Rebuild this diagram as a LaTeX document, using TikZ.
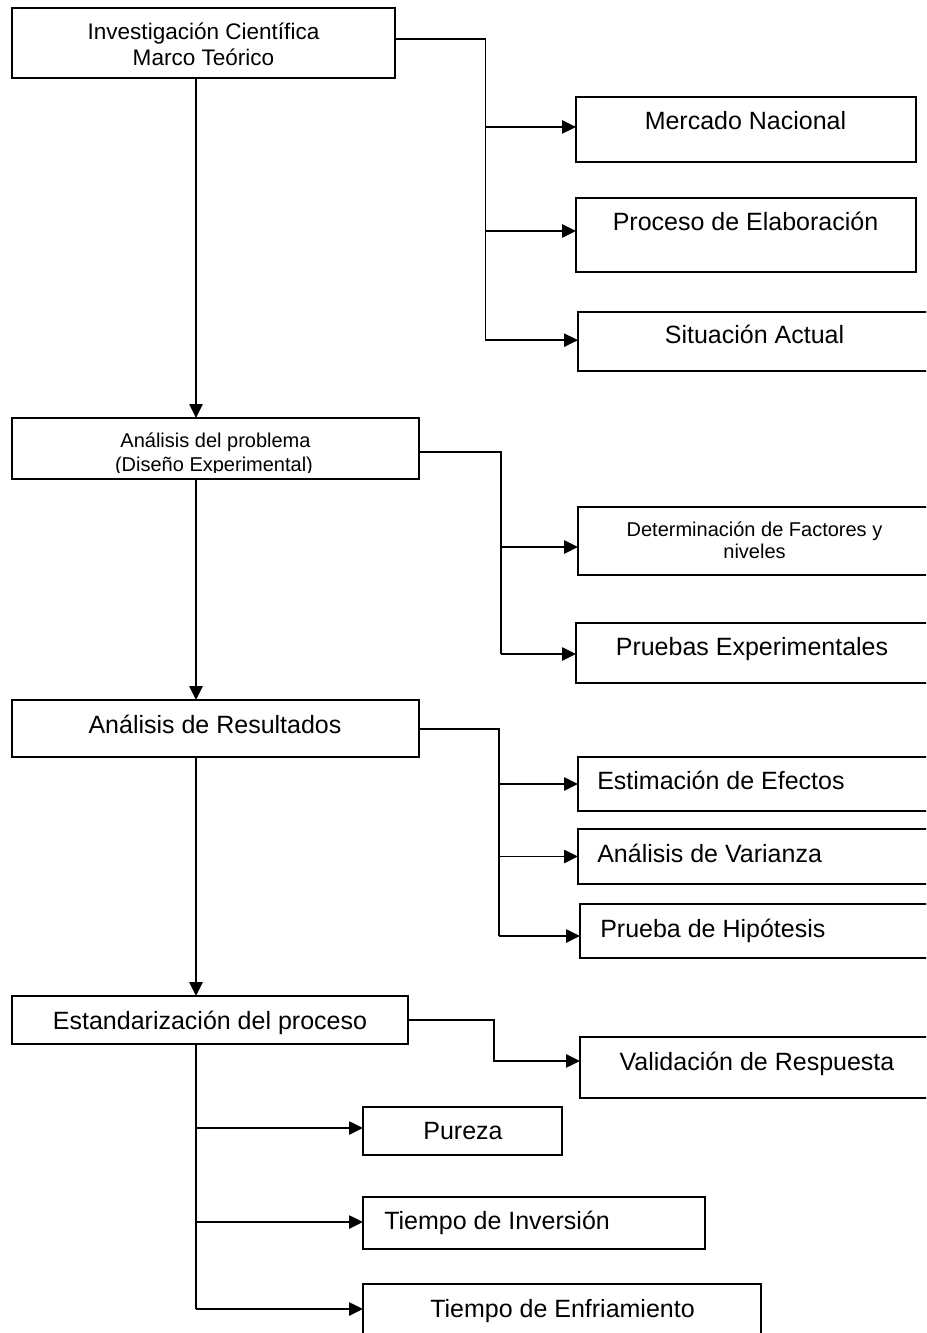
\documentclass[tikz,border=0pt]{standalone}
\usepackage{fontspec}
\setmainfont{Liberation Sans}
\usetikzlibrary{arrows.meta}
\tikzset{
  box/.style={draw=black, line width=1.6pt*0.75, inner sep=0pt, outer sep=0pt, anchor=north west},
  big/.style={font=\fontsize{18.75}{22}\selectfont, inner sep=0pt, anchor=base},
  bigl/.style={big, anchor=base west},
  mid/.style={font=\fontsize{16.9}{19.5}\selectfont, inner sep=0pt, anchor=base},
  sml/.style={font=\fontsize{15}{16.5}\selectfont, inner sep=0pt, anchor=base},
  link/.style={line width=1.5pt*0.75, line join=miter},
  arr/.style={link, -{Triangle[length=10.5pt,width=10pt]}},
}
\begin{document}
\begin{tikzpicture}[x=0.75pt, y=-0.75pt]
\useasboundingbox (0,0) rectangle (926,1333);
\clip (0,0) rectangle (926,1333);

% main column boxes
\node[box, minimum width=383*0.75pt, minimum height=70*0.75pt] (b1) at (12,8) {};
\node[box, minimum width=407*0.75pt, minimum height=61*0.75pt] (b2) at (12,418) {};
\node[box, minimum width=407*0.75pt, minimum height=57*0.75pt] (b3) at (12,700) {};
\node[box, minimum width=396*0.75pt, minimum height=48*0.75pt] (b4) at (12,996) {};

% right boxes
\node[box, minimum width=340*0.75pt, minimum height=65*0.75pt] (m1) at (576,97) {};
\node[box, minimum width=340*0.75pt, minimum height=74*0.75pt] (m2) at (576,198) {};
\node[box, minimum width=370*0.75pt, minimum height=59*0.75pt] (m3) at (578,312) {};
\node[box, minimum width=370*0.75pt, minimum height=68*0.75pt] (d1) at (578,507) {};
\node[box, minimum width=370*0.75pt, minimum height=60*0.75pt] (d2) at (576,623) {};
\node[box, minimum width=370*0.75pt, minimum height=54*0.75pt] (e1) at (578,757) {};
\node[box, minimum width=370*0.75pt, minimum height=55*0.75pt] (e2) at (578,829) {};
\node[box, minimum width=370*0.75pt, minimum height=54*0.75pt] (e3) at (580,904) {};
\node[box, minimum width=370*0.75pt, minimum height=61*0.75pt] (v1) at (580,1037) {};
\node[box, minimum width=199*0.75pt, minimum height=48*0.75pt] (p1) at (363,1107) {};
\node[box, minimum width=342*0.75pt, minimum height=52*0.75pt] (p2) at (363,1197) {};
\node[box, minimum width=398*0.75pt, minimum height=60*0.75pt] (p3) at (363,1284) {};

% texts
\node[mid] (t1a) at (203.5,40) {Investigación Científica};
\node[mid] (t1b) at (203.5,66) {Marco Teórico};
\node[sml] (t2a) at (215.5,447) {Análisis del problema};
\begin{scope}
  \clip (12,418) rectangle (419,472);
  \node[sml] (t2b) at (214,471) {(Diseño Experimental)};
\end{scope}
\node[big] (t3) at (215,733) {Análisis de Resultados};
\node[big] (t4) at (210,1029) {Estandarización del proceso};

\node[big] (tm1) at (745.5,130) {Mercado Nacional};
\node[big] (tm2) at (745.5,231) {Proceso de Elaboración};
\node[big] (tm3) at (754.5,344) {Situación Actual};
\node[sml] (td1a) at (754.5,536) {Determinación de Factores y};
\node[sml] (td1b) at (754.5,558) {niveles};
\node[big] (td2) at (752,655) {Pruebas Experimentales};
\node[bigl] (te1) at (597,789) {Estimación de Efectos};
\node[bigl] (te2) at (597,862) {Análisis de Varianza};
\node[bigl] (te3) at (600,937) {Prueba de Hipótesis};
\node[big] (tv1) at (757,1070) {Validación de Respuesta};
\node[big] (tp1) at (463,1139) {Pureza};
\node[bigl] (tp2) at (384,1229) {Tiempo de Inversión};
\node[big] (tp3) at (562.5,1317) {Tiempo de Enfriamiento};

% trunk coordinates
\coordinate (vx) at (196,0);
\coordinate (k1) at (485.5,39);
\coordinate (k2) at (501,452);
\coordinate (k3) at (499,729);
\coordinate (k4) at (494,1020);

% main vertical flow
\draw[arr] (b1.south -| vx) -- (b2.north -| vx);
\draw[arr] (b2.south -| vx) -- (b3.north -| vx);
\draw[arr] (b3.south -| vx) -- (b4.north -| vx);

% section 1
\draw[link] (b1.east |- k1) -- (k1) -- (k1 |- m3.west);
\draw[arr] ([yshift=1.9pt]k1 |- m1.west) -- ([yshift=1.9pt]m1.west);
\draw[arr] ([yshift=3pt]k1 |- m2.west) -- ([yshift=3pt]m2.west);
\draw[arr] ([yshift=1pt]k1 |- m3.west) -- ([yshift=1pt]m3.west);

% section 2
\draw[link] (b2.east |- k2) -- (k2) -- ([yshift=-0.75pt]k2 |- d2.west);
\draw[arr] ([yshift=-4.5pt]k2 |- d1.west) -- ([yshift=-4.5pt]d1.west);
\draw[arr] ([yshift=-0.75pt]k2 |- d2.west) -- ([yshift=-0.75pt]d2.west);

% section 3
\draw[link] (b3.east |- k3) -- (k3) -- ([yshift=-3.75pt]k3 |- e3.west);
\draw[arr] (k3 |- e1.west) -- (e1.west);
\draw[arr] (k3 |- e2.west) -- (e2.west);
\draw[arr] ([yshift=-3.75pt]k3 |- e3.west) -- ([yshift=-3.75pt]e3.west);

% section 4
\draw[arr] (b4.east |- k4) -- (k4) |- ([yshift=4.9pt]v1.west);
\draw[link] (b4.south -| vx) -- ([yshift=3.75pt]vx |- p3.west);
\draw[arr] ([yshift=2.25pt]vx |- p1.west) -- ([yshift=2.25pt]p1.west);
\draw[arr] ([yshift=0.75pt]vx |- p2.west) -- ([yshift=0.75pt]p2.west);
\draw[arr] ([yshift=3.75pt]vx |- p3.west) -- ([yshift=3.75pt]p3.west);
\end{tikzpicture}
\end{document}
